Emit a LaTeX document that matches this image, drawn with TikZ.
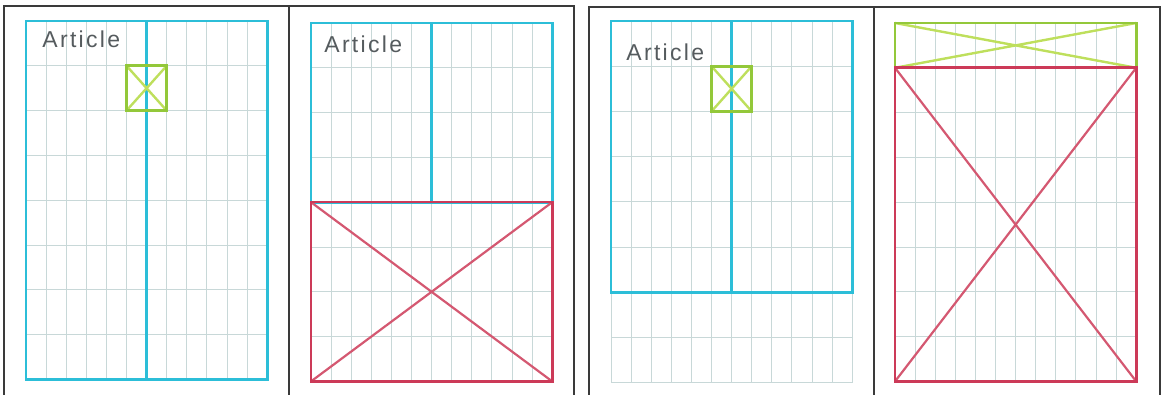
\documentclass[tikz,border=0pt]{standalone}
\usepackage{fontspec}
\newfontfamily\handfont[LetterSpace=10]{Liberation Sans}
\definecolor{framegray}{HTML}{3A3A3A}
\definecolor{gridgray}{HTML}{C8D8D8}
\definecolor{wirecyan}{HTML}{2CBED8}
\definecolor{wiregreen}{HTML}{93C83A}
\definecolor{wiregreenlt}{HTML}{BEDF5C}
\definecolor{wirered}{HTML}{CC3A58}
\definecolor{pencil}{HTML}{555B5E}
\tikzset{
  pageframe/.style={draw=framegray,line width=0.6pt},
  gridline/.style={draw=gridgray,line width=0.45pt},
  column/.style={draw=wirecyan,line width=1.4pt},
  hero/.style={draw=wirered,line width=1.3pt},
  herocross/.style={draw=wirered!85,line width=1.1pt},
  thumb/.style={draw=wiregreen,line width=1.4pt},
  thumbcross/.style={draw=wiregreenlt,line width=1.2pt},
  handtext/.style={font=\handfont\fontsize{11.5}{13}\selectfont,
                   text=pencil,inner sep=0pt},
  sheet/.style={x=10.05pt,y=-22.4pt}
}
\newcommand\papergrid{%
  \foreach \i in {0,...,12} \draw[gridline] (\i,0) -- (\i,8);
  \foreach \j in {0,...,8} \draw[gridline] (0,\j) -- (12,\j);
}

\begin{document}
\begin{tikzpicture}[x=0.5pt,y=-0.5pt]
    \path[use as bounding box] (0,0) rectangle (1171,395);

    % page frames
    \draw[pageframe] (4,395) -- (4,6) -- (574,6) -- (574,395);
    \draw[pageframe] (289,6) -- (289,395);
    \draw[pageframe] (589,395) -- (589,7) -- (1160,7) -- (1160,395);
    \draw[pageframe] (874,7) -- (874,395);

    % sketch 1: two columns, small image
    \begin{scope}[shift={(26,21)},sheet]
      \papergrid
      \draw[column] (0,0) rectangle (12,8);
      \draw[column] (6,0) -- (6,8);
      \draw[thumbcross] (5,1) -- (7,2) (5,2) -- (7,1);
      \draw[thumb] (5,1) rectangle (7,2);
      \node[handtext] (article1) at (2.75,0.4) {Article};
    \end{scope}

    % sketch 2: two columns over a hero image
    \begin{scope}[shift={(311,23)},sheet]
      \papergrid
      \draw[column] (0,0) rectangle (12,4);
      \draw[column] (6,0) -- (6,4);
      \draw[herocross] (0,4) -- (12,8) (0,8) -- (12,4);
      \draw[hero] (0,4) rectangle (12,8);
      \node[handtext] (article2) at (2.6,0.47) {Article};
    \end{scope}

    % sketch 3: shorter columns, small image
    \begin{scope}[shift={(611,21)},sheet,y=-22.6pt]
      \papergrid
      \draw[column] (0,0) rectangle (12,6);
      \draw[column] (6,0) -- (6,6);
      \draw[thumbcross] (5,1) -- (7,2) (5,2) -- (7,1);
      \draw[thumb] (5,1) rectangle (7,2);
      \node[handtext] (article3) at (2.7,0.7) {Article};
    \end{scope}

    % sketch 4: banner over a full image
    \begin{scope}[shift={(895,23)},sheet]
      \papergrid
      \draw[thumbcross] (0,0) -- (12,1) (0,1) -- (12,0);
      \draw[thumb] (0,0) rectangle (12,1);
      \draw[herocross] (0,1) -- (12,8) (0,8) -- (12,1);
      \draw[hero] (0,1) rectangle (12,8);
    \end{scope}
  \end{tikzpicture}
\end{document}
